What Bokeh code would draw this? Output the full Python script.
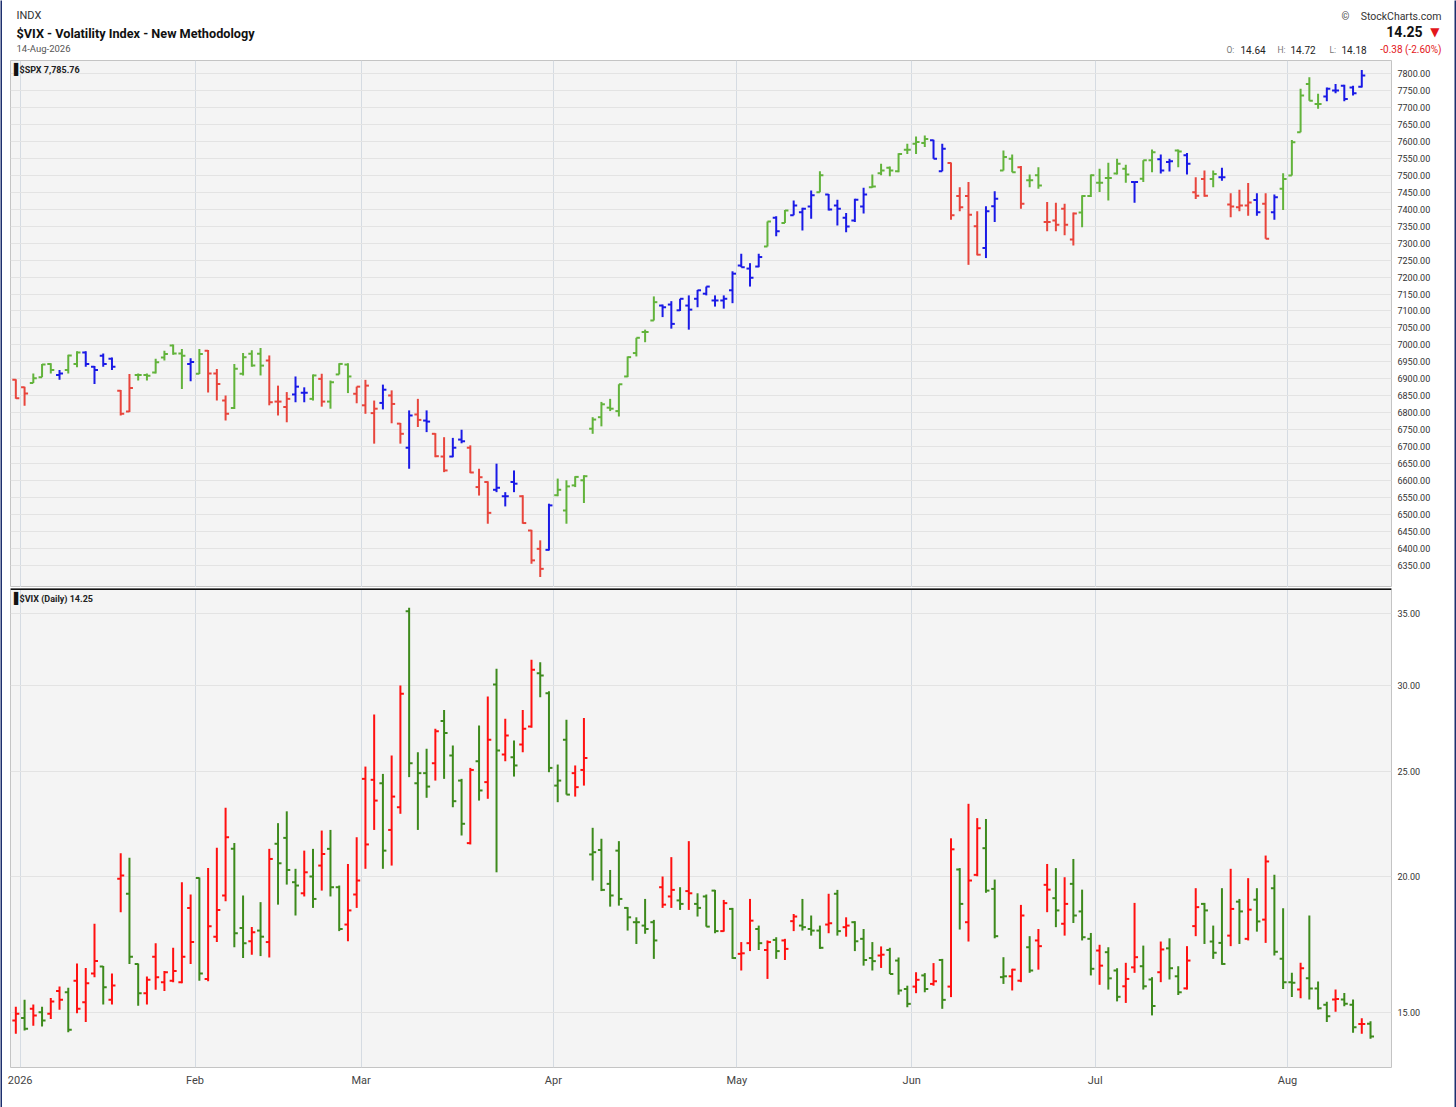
import numpy as np
from bokeh.plotting import figure
from bokeh.layouts import column, row
from bokeh.models import (Range1d, FixedTicker, Label, Span, PrintfTickFormatter,
                          ColumnDataSource)
from bokeh.embed import file_html
from bokeh.resources import INLINE

# ---------------- data ----------------
# S&P 500 daily OHLC, Dec 31 2025 .. Aug 14 2026 (one entry per trading day)
spx_open = [6897, 6875, 6888, 6905, 6944, 6911, 6926, 6944, 6978, 6936, 6968, 6959, 6865, 6804, 6911, 6911,
            6919, 6963, 6998, 6975, 6944, 6915, 6983, 6916, 6836, 6814, 6915, 6974, 6974, 6954, 6833, 6817,
            6854, 6859, 6841, 6900, 6833, 6913, 6942, 6856, 6822, 6799, 6829, 6851, 6768, 6697, 6795, 6777,
            6738, 6671, 6671, 6721, 6697, 6581, 6596, 6573, 6554, 6596, 6554, 6453, 6399, 6396, 6557, 6512,
            6586, 6601, 6753, 6787, 6815, 6805, 6907, 6976, 7038, 7072, 7116, 7119, 7102, 7116, 7136, 7151,
            7131, 7131, 7161, 7234, 7225, 7231, 7290, 7375, 7359, 7382, 7391, 7408, 7450, 7443, 7411, 7375,
            7367, 7408, 7465, 7506, 7522, 7512, 7575, 7593, 7595, 7603, 7512, 7536, 7439, 7439, 7350, 7286,
            7409, 7514, 7549, 7524, 7485, 7500, 7362, 7367, 7401, 7311, 7390, 7439, 7478, 7492, 7505, 7519,
            7480, 7490, 7544, 7547, 7539, 7573, 7559, 7450, 7489, 7489, 7494, 7414, 7406, 7411, 7427, 7416,
            7391, 7460, 7499, 7627, 7769, 7710, 7732, 7750, 7764, 7759, 7761, 7804]
spx_high = [6899, 6877, 6916, 6944, 6946, 6926, 6971, 6981, 6981, 6938, 6975, 6963, 6867, 6914, 6916, 6916,
            6959, 6983, 7001, 6988, 6961, 6988, 6985, 6929, 6851, 6944, 6976, 6984, 6991, 6969, 6880, 6861,
            6907, 6875, 6913, 6915, 6895, 6946, 6946, 6877, 6897, 6836, 6883, 6866, 6770, 6807, 6841, 6807,
            6740, 6728, 6726, 6750, 6704, 6635, 6598, 6650, 6566, 6630, 6557, 6455, 6424, 6532, 6606, 6601,
            6613, 6616, 6787, 6832, 6841, 6884, 6966, 7021, 7045, 7143, 7119, 7129, 7136, 7146, 7162, 7172,
            7146, 7146, 7217, 7269, 7241, 7269, 7364, 7379, 7398, 7426, 7404, 7455, 7512, 7445, 7428, 7389,
            7431, 7463, 7502, 7534, 7526, 7565, 7593, 7614, 7617, 7605, 7593, 7538, 7465, 7480, 7394, 7409,
            7453, 7573, 7561, 7527, 7502, 7524, 7421, 7419, 7416, 7390, 7441, 7502, 7519, 7537, 7549, 7531,
            7482, 7544, 7576, 7561, 7549, 7576, 7566, 7494, 7514, 7514, 7522, 7447, 7457, 7477, 7447, 7447,
            7443, 7506, 7604, 7755, 7789, 7740, 7759, 7769, 7767, 7764, 7810, 7806]
spx_low = [6841, 6821, 6888, 6905, 6916, 6897, 6916, 6934, 6936, 6885, 6936, 6926, 6792, 6802, 6895, 6895,
           6916, 6954, 6971, 6870, 6893, 6914, 6860, 6836, 6777, 6811, 6910, 6936, 6910, 6822, 6792, 6772,
           6831, 6831, 6836, 6818, 6812, 6913, 6858, 6828, 6797, 6709, 6810, 6769, 6709, 6635, 6758, 6743,
           6669, 6625, 6669, 6710, 6622, 6556, 6473, 6566, 6524, 6566, 6473, 6355, 6316, 6394, 6554, 6473,
           6581, 6534, 6738, 6760, 6805, 6789, 6905, 6966, 7008, 7072, 7082, 7048, 7100, 7045, 7111, 7146,
           7113, 7107, 7123, 7229, 7172, 7229, 7290, 7320, 7359, 7382, 7337, 7372, 7450, 7396, 7352, 7332,
           7362, 7387, 7463, 7500, 7497, 7509, 7563, 7563, 7583, 7549, 7512, 7369, 7394, 7236, 7264, 7256,
           7362, 7514, 7509, 7401, 7465, 7460, 7335, 7335, 7323, 7293, 7347, 7436, 7451, 7426, 7502, 7478,
           7419, 7480, 7509, 7505, 7511, 7524, 7502, 7430, 7437, 7465, 7484, 7376, 7394, 7381, 7381, 7313,
           7369, 7398, 7499, 7627, 7720, 7696, 7718, 7742, 7718, 7735, 7759, 7777]
spx_close = [6843, 6857, 6902, 6942, 6926, 6916, 6969, 6978, 6944, 6926, 6944, 6936, 6797, 6873, 6911, 6909,
             6949, 6973, 6975, 6968, 6950, 6973, 6916, 6885, 6797, 6930, 6964, 6939, 6939, 6831, 6833, 6841,
             6877, 6859, 6910, 6833, 6890, 6944, 6907, 6877, 6880, 6812, 6868, 6826, 6738, 6792, 6779, 6774,
             6672, 6630, 6697, 6716, 6624, 6610, 6505, 6579, 6554, 6591, 6475, 6365, 6340, 6527, 6573, 6583,
             6611, 6613, 6780, 6825, 6812, 6884, 6964, 7021, 7038, 7126, 7111, 7062, 7136, 7104, 7161, 7172,
             7131, 7136, 7210, 7229, 7198, 7259, 7364, 7335, 7396, 7411, 7401, 7441, 7500, 7399, 7401, 7349,
             7428, 7443, 7467, 7514, 7514, 7563, 7575, 7598, 7607, 7549, 7578, 7382, 7406, 7384, 7266, 7394,
             7431, 7554, 7509, 7416, 7485, 7470, 7362, 7354, 7354, 7387, 7439, 7500, 7478, 7492, 7534, 7502,
             7480, 7544, 7568, 7514, 7541, 7570, 7534, 7440, 7440, 7504, 7494, 7408, 7411, 7420, 7391, 7313,
             7435, 7489, 7597, 7735, 7720, 7710, 7755, 7750, 7725, 7742, 7794, 7785.76]
# Elder impulse state of each SPX bar: G = bullish, R = bearish, B = neutral
spx_impulse = list("RRGGGBGGBBBBRRGGGGGGBGRRRGGGGRRRBBGRGGGRRRBRRBRBRRBBRRRBBBRRRB"
                   "GGGGGGGGGGGGBBBBBBBBBBBBGBGBBBGBBBBBGGGGGGGBBRRRRBBGGRGGRRRRGGGGGGBGGBBGB"
                   "RRGBRRRBRBGGGGGBBBBB")

# CBOE Volatility Index daily OHLC, same dates
vix_open = [14.74, 14.82, 15.11, 15.00, 14.95, 15.69, 15.65, 16.04, 15.32, 16.29, 16.53, 15.40, 19.91, 19.29,
            16.62, 15.62, 16.88, 15.99, 16.04, 15.99, 18.72, 19.95, 16.10, 17.61, 19.22, 21.22, 17.94, 17.44,
            17.84, 17.41, 21.45, 21.72, 19.77, 19.31, 20.01, 20.48, 21.22, 19.56, 18.07, 19.26, 24.62, 24.57,
            24.39, 22.09, 23.18, 35.15, 24.39, 24.92, 25.45, 27.83, 25.87, 24.53, 21.48, 25.56, 24.45, 30.08,
            25.93, 25.78, 26.48, 27.51, 30.81, 29.53, 24.27, 26.75, 24.92, 25.09, 20.97, 21.17, 19.70, 21.14,
            18.72, 18.16, 18.03, 18.16, 19.56, 19.18, 19.02, 19.40, 18.88, 19.18, 19.42, 17.82, 18.68, 16.98,
            17.37, 17.90, 17.12, 17.49, 17.47, 18.20, 18.03, 17.90, 17.84, 18.07, 19.29, 17.97, 18.16, 17.53,
            16.83, 16.92, 17.12, 16.74, 15.76, 15.84, 16.22, 15.93, 16.76, 15.84, 20.31, 18.16, 20.08, 21.25,
            19.49, 16.16, 16.19, 16.04, 17.22, 17.47, 19.66, 19.11, 18.10, 19.70, 18.58, 17.53, 17.10, 17.04,
            16.39, 15.85, 16.50, 16.54, 16.08, 16.33, 17.18, 16.19, 15.78, 18.01, 18.88, 17.43, 17.38, 17.65,
            18.97, 17.53, 19.05, 18.26, 19.52, 16.80, 15.99, 15.74, 16.12, 15.78, 15.24, 15.41, 15.41, 15.24,
            14.63, 14.64]
vix_high = [15.18, 15.40, 15.25, 15.18, 15.46, 15.84, 15.80, 16.64, 16.48, 18.10, 16.55, 16.29, 21.02, 20.82,
            16.64, 16.18, 17.37, 16.37, 17.20, 19.77, 19.26, 19.97, 20.38, 21.27, 23.15, 21.48, 19.22, 17.98,
            18.95, 21.22, 22.41, 22.98, 20.34, 21.14, 21.22, 22.06, 22.09, 19.63, 20.55, 21.75, 25.27, 28.22,
            24.88, 25.87, 30.01, 35.40, 26.05, 26.24, 27.38, 28.50, 26.42, 24.62, 25.20, 27.57, 29.32, 31.10,
            27.97, 26.71, 28.50, 31.70, 31.54, 29.66, 25.38, 27.91, 25.33, 28.02, 22.19, 21.68, 20.29, 21.57,
            18.75, 18.35, 19.08, 18.25, 20.01, 20.85, 19.56, 21.57, 19.31, 19.26, 19.45, 19.04, 18.72, 17.41,
            19.08, 18.03, 17.47, 17.59, 17.53, 18.48, 19.08, 18.42, 18.03, 19.29, 19.45, 18.35, 18.20, 17.90,
            17.41, 17.25, 17.20, 16.85, 15.87, 16.33, 16.30, 16.65, 16.80, 21.70, 20.37, 23.35, 22.65, 22.61,
            19.88, 16.86, 16.45, 18.84, 17.63, 17.90, 20.55, 20.37, 19.98, 20.77, 19.46, 17.75, 17.31, 17.22,
            16.47, 16.66, 18.92, 17.28, 16.16, 17.43, 17.55, 16.54, 17.26, 19.52, 18.92, 18.03, 19.52, 20.34,
            19.08, 19.94, 19.52, 20.92, 20.08, 18.71, 16.31, 16.66, 18.42, 16.01, 15.34, 15.74, 15.63, 15.41,
            14.81, 14.72]
vix_low = [14.33, 14.43, 14.58, 14.55, 14.79, 15.08, 14.38, 14.97, 14.69, 16.16, 15.25, 15.25, 18.55, 16.62,
           15.21, 15.25, 15.73, 15.69, 15.99, 15.95, 16.62, 16.04, 16.02, 17.41, 18.99, 17.22, 16.83, 16.95,
           16.90, 16.85, 18.85, 19.67, 18.42, 19.18, 18.72, 19.42, 19.18, 17.82, 17.44, 18.72, 20.34, 22.09,
           20.34, 20.48, 22.86, 24.71, 22.09, 23.65, 24.53, 24.62, 23.18, 21.83, 21.42, 23.51, 23.60, 20.19,
           25.56, 24.74, 26.05, 27.44, 29.28, 24.97, 23.43, 23.81, 23.71, 24.27, 19.84, 19.40, 18.77, 18.81,
           17.84, 17.34, 17.72, 16.80, 18.72, 18.72, 18.64, 18.64, 18.38, 17.99, 17.74, 17.80, 16.80, 16.39,
           17.08, 17.12, 16.10, 16.80, 16.76, 17.82, 17.84, 17.65, 17.16, 17.74, 17.65, 17.61, 17.08, 16.56,
           16.39, 16.48, 16.27, 15.57, 15.16, 15.62, 15.65, 15.87, 15.11, 15.49, 17.88, 17.43, 20.02, 19.33,
           17.55, 15.93, 15.71, 15.99, 16.31, 16.42, 18.55, 17.97, 17.65, 18.13, 17.47, 16.22, 15.90, 15.74,
           15.35, 15.30, 16.31, 15.74, 14.90, 15.99, 16.08, 15.56, 15.74, 17.63, 17.34, 16.80, 16.59, 17.26,
           17.34, 17.47, 17.80, 17.38, 16.92, 15.76, 15.49, 15.45, 15.41, 15.09, 14.69, 15.02, 15.19, 14.36,
           14.33, 14.18]
vix_close = [14.95, 14.48, 14.90, 14.74, 15.35, 15.40, 14.45, 15.11, 15.95, 16.72, 15.82, 15.88, 20.05, 16.88,
             15.62, 16.07, 16.16, 16.33, 16.37, 16.88, 17.41, 16.29, 18.00, 18.64, 21.75, 17.74, 17.37, 17.78,
             17.61, 20.77, 20.58, 20.29, 19.63, 20.19, 19.08, 20.99, 19.56, 17.90, 18.62, 19.84, 21.42, 23.51,
             21.14, 23.71, 29.49, 25.45, 24.92, 24.22, 27.24, 27.13, 23.48, 22.38, 25.09, 24.02, 26.75, 26.15,
             26.99, 25.33, 27.38, 31.03, 30.66, 25.20, 24.53, 23.81, 24.19, 25.74, 21.07, 19.45, 19.22, 19.08,
             18.35, 18.16, 17.90, 17.47, 18.85, 19.45, 18.88, 19.31, 18.72, 17.99, 17.82, 18.91, 16.83, 17.00,
             18.22, 17.37, 17.41, 17.08, 17.16, 18.38, 17.97, 17.84, 17.20, 18.12, 17.82, 18.03, 17.44, 16.76,
             16.72, 16.95, 16.27, 15.71, 15.27, 16.07, 15.76, 16.02, 15.40, 21.20, 18.88, 19.84, 22.17, 19.42,
             17.63, 16.19, 16.42, 18.42, 16.39, 17.26, 19.46, 18.62, 18.88, 18.42, 17.59, 16.45, 16.56, 16.12,
             15.50, 16.10, 16.86, 15.85, 15.20, 17.14, 16.47, 15.65, 16.74, 18.75, 18.62, 17.02, 16.62, 18.68,
             18.58, 18.65, 18.19, 20.66, 17.06, 15.99, 15.97, 16.47, 15.78, 15.13, 14.87, 15.43, 15.27, 14.53,
             14.63, 14.25]
vix_prev_close = 14.60  # close of the session before the first bar

# first bar of each month and its axis label
month_first_bar = [1, 21, 40, 62, 83, 103, 124, 146]
month_labels = ["2026", "Feb", "Mar", "Apr", "May", "Jun", "Jul", "Aug"]

spx_ticks = list(range(6350, 7801, 50))
vix_ticks = [15, 20, 25, 30, 35]

# ---------------- styling ----------------
FONT = "Roboto"
NAVY = "#1d2f6e"
FW = 1452            # width of every stacked figure (inside the 2px frame)
FRAME_W = 1381       # width of the plotting area
BL, BR = 8, FW - 8 - FRAME_W
X_RANGE = (-0.61, 157.4)
IMPULSE_COLORS = {"G": "#62b33b", "R": "#e8453c", "B": "#1a1ae6"}
VIX_UP, VIX_DOWN = "#ff1010", "#3d8a1c"
PLOT_BG = "#f4f4f4"

n = len(spx_close)
idx = np.arange(n, dtype=float)
month_ticks = [b - 0.5 for b in month_first_bar]


def ohlc(p, o, h, l, c, colors, tick=0.4, lw=2):
    src = ColumnDataSource(dict(x=idx, xl=idx - tick, xr=idx + tick, o=o, h=h, l=l, c=c, color=colors))
    p.segment(x0="x", y0="l", x1="x", y1="h", line_color="color", line_width=lw, source=src)
    p.segment(x0="xl", y0="o", x1="x", y1="o", line_color="color", line_width=lw, source=src)
    p.segment(x0="x", y0="c", x1="xr", y1="c", line_color="color", line_width=lw, source=src)


def style_panel(p, ticks):
    ax = p.yaxis[0]
    ax.ticker = FixedTicker(ticks=ticks)
    ax.formatter = PrintfTickFormatter(format="%.2f")
    ax.axis_line_color = None
    ax.major_tick_line_color = None
    ax.minor_tick_line_color = None
    ax.major_tick_out = 0
    ax.major_tick_in = 0
    ax.minor_tick_out = 0
    ax.major_label_standoff = 6
    ax.major_label_text_font = FONT
    ax.major_label_text_font_size = "9px"
    ax.major_label_text_color = "#333333"
    p.ygrid.ticker = FixedTicker(ticks=ticks)
    p.ygrid.grid_line_color = "#e3e3e3"
    p.xgrid.ticker = FixedTicker(ticks=month_ticks)
    p.xgrid.grid_line_color = "#d5dbe2"
    p.outline_line_color = "#c4c4c4"


def bar_fig(w, h):
    b = figure(width=w, height=h, x_axis_location=None, y_axis_location=None,
               toolbar_location=None, output_backend="svg", min_border=0,
               outline_line_color=None, background_fill_color=NAVY, border_fill_color=NAVY)
    b.grid.visible = False
    return b


# ---------------- header ----------------
hdr = figure(width=FW, height=58, x_range=Range1d(2, 2 + FW), y_range=Range1d(60, 2),
             x_axis_location=None, y_axis_location=None, toolbar_location=None,
             output_backend="svg", min_border=0, outline_line_color=None,
             background_fill_color="white", border_fill_color="white")
hdr.grid.visible = False


def htext(x, y, t, size, color="#222222", bold=False, align="left", font=FONT):
    hdr.add_layout(Label(x=x, y=y, text=t, text_font=font, text_font_size=size,
                         text_color=color, text_font_style="bold" if bold else "normal",
                         text_align=align, text_baseline="middle"))


last_c = vix_close[-1]
chg = last_c - vix_close[-2]
pct = chg / vix_close[-2] * 100
htext(16, 15, "INDX", "11px", "#333333")
htext(16, 33, "$VIX - Volatility Index - New Methodology", "12.7px", "#111111", bold=True)
htext(16, 48, "14-Aug-2026", "9.5px", "#555555")
htext(1341, 16, "©", "10px", "#444444")
htext(1441, 16, "StockCharts.com", "10.5px", "#333333", align="right")
htext(1422, 31, f"{last_c:.2f}", "14px", "#111111", bold=True, align="right")
htext(1439, 31, "▼", "12px", "#e3161b", align="right", font="DejaVu Sans")
htext(1226, 49, "O:", "8.5px", "#777777")
htext(1240, 49, f"{vix_open[-1]:.2f}", "10px", "#222222")
htext(1277, 49, "H:", "8.5px", "#777777")
htext(1290, 49, f"{vix_high[-1]:.2f}", "10px", "#222222")
htext(1329, 49, "L:", "8.5px", "#777777")
htext(1341, 49, f"{vix_low[-1]:.2f}", "10px", "#222222")
htext(1441, 49, f"{chg:.2f} ({pct:.2f}%)", "10px", "#e3161b", align="right")

# ---------------- SPX panel ----------------
spx_range = (6285.0, 7838.3)
p1 = figure(width=FW, height=527, x_range=Range1d(*X_RANGE), y_range=Range1d(*spx_range),
            x_axis_location=None, y_axis_location="right", toolbar_location=None,
            output_backend="svg", min_border_left=BL, min_border_right=BR,
            min_border_top=0, min_border_bottom=0,
            background_fill_color=PLOT_BG, border_fill_color="white")
style_panel(p1, spx_ticks)
ohlc(p1, spx_open, spx_high, spx_low, spx_close, [IMPULSE_COLORS[k] for k in spx_impulse])
px_per_idx = FRAME_W / (X_RANGE[1] - X_RANGE[0])
lx = X_RANGE[0] + 3.5 / px_per_idx
tx = X_RANGE[0] + 9 / px_per_idx
ly1 = spx_range[1] - 9 * (spx_range[1] - spx_range[0]) / 527
p1.add_layout(Label(x=lx, y=ly1, text="▌", text_font="DejaVu Sans", text_font_size="11px",
                    text_color="#111111", text_baseline="middle", text_align="left"))
p1.add_layout(Label(x=tx, y=ly1, text=f"$SPX {spx_close[-1]:,.2f}", text_font=FONT,
                    text_font_size="9px", text_color="#222222", text_font_style="bold",
                    text_baseline="middle", text_align="left"))

# ---------------- VIX panel ----------------
vix_range = (13.34, 36.88)
p2 = figure(width=FW, height=518, x_range=Range1d(*X_RANGE), y_range=Range1d(*vix_range),
            y_axis_type="log", x_axis_location="below", y_axis_location="right",
            toolbar_location=None, output_backend="svg", min_border_left=BL,
            min_border_right=BR, min_border_top=1, min_border_bottom=38,
            background_fill_color=PLOT_BG, border_fill_color="white")
style_panel(p2, vix_ticks)
xa = p2.xaxis[0]
xa.ticker = FixedTicker(ticks=month_ticks)
xa.major_label_overrides = {t: lab for t, lab in zip(month_ticks, month_labels)}
xa.axis_line_color = None
xa.major_tick_line_color = None
xa.minor_tick_line_color = None
xa.major_tick_out = 0
xa.major_tick_in = 0
xa.minor_tick_out = 0
xa.major_label_standoff = 6
xa.major_label_text_font = FONT
xa.major_label_text_font_size = "11px"
xa.major_label_text_color = "#444444"

prev = [vix_prev_close] + vix_close[:-1]
vix_colors = [VIX_UP if c > pc else VIX_DOWN for c, pc in zip(vix_close, prev)]
ohlc(p2, vix_open, vix_high, vix_low, vix_close, vix_colors)
p2.add_layout(Span(location=vix_range[1], dimension="width", line_color="#111111", line_width=3))
ly2 = float(np.exp(np.log(vix_range[1]) - 10 * (np.log(vix_range[1]) - np.log(vix_range[0])) / 479))
p2.add_layout(Label(x=lx, y=ly2, text="▌", text_font="DejaVu Sans", text_font_size="11px",
                    text_color="#111111", text_baseline="middle", text_align="left"))
p2.add_layout(Label(x=tx, y=ly2, text=f"$VIX (Daily) {last_c:.2f}", text_font=FONT,
                    text_font_size="9px", text_color="#222222", text_font_style="bold",
                    text_baseline="middle", text_align="left"))

panels = column(p1, p2, spacing=0)
inner = column(bar_fig(FW, 2), hdr, panels, bar_fig(FW, 2), spacing=0)
layout = row(bar_fig(2, 1107), inner, bar_fig(2, 1107), spacing=0)
open("out.html", "w").write(file_html(layout, INLINE))
